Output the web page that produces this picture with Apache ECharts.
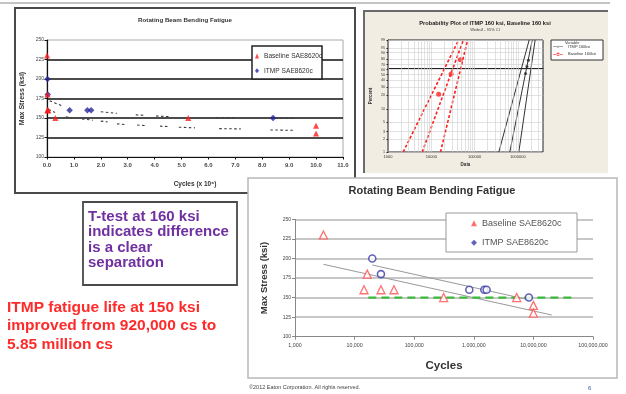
<!DOCTYPE html>
<html>
<head>
<meta charset="utf-8">
<script src="https://cdn.jsdelivr.net/npm/echarts@6/dist/echarts.min.js"></script>
<style>
  html, body { margin: 0; padding: 0; background: #fff; }
  #c { width: 626px; height: 394px; }
</style>
</head>
<body>
<div id="c"></div>
<script>
const FONT = '"Liberation Sans", Arial, sans-serif';

// fatigue tests: cycles to failure and max stress (ksi)
const baseCycles = [3000, 16300, 14400, 27700, 45800, 312000, 5250000, 10000000, 10000000];
const baseStress = [230, 180, 160, 160, 160, 150, 150, 140, 130];
const itmpCycles = [19800, 27700, 841000, 1500000, 1640000, 8400000];
const itmpStress = [200, 180, 160, 160, 160, 150];

// top-left chart: dashed trend marks (x in millions of cycles), null = gap
const upperTrendX = [0.1, 0.42, 0.6, null, 2.0, 2.6, null, 3.3, 3.6, null, 4.05, 4.6, null, 6.3, 7.0, null, 8.3, 9.2];
const upperTrendY = [172, 167.5, 165, null, 158, 156, null, 154, 153.5, null, 152.6, 151.7, null, 150.4, 150.4, null, 149.6, 149.6];
const lowerTrendX = [0.06, 0.3, null, 0.7, 0.95, null, 1.3, 1.7, null, 2.0, 2.25, null, 2.6, 2.95, null, 3.35, 3.7, null, 4.2, 4.5, null, 4.9, 5.5, null, 6.4, 7.2, null, 8.3, 9.15];
const lowerTrendY = [161, 157, null, 151.5, 150, null, 148.8, 147.2, null, 146, 145, null, 142.5, 141.5, null, 141, 140.2, null, 139.6, 139, null, 138.2, 137.4, null, 136.4, 136, null, 134.7, 134.2];

// bottom-right chart: trend lines and 150 ksi reference
const baseTrendX = [3000, 20300000];
const baseTrendY = [192.5, 127.7];
const itmpTrendX = [19800, 8700000];
const itmpTrendY = [191.6, 146.9];
const refX = [17000, 50000000];
const refY = [150, 150];

// probability plot (data, percent)
const pctTicks = [1, 2, 3, 5, 10, 20, 30, 40, 50, 60, 70, 80, 90, 95, 99];
const probDecades = [1000, 10000, 100000, 1000000];
const probSteps = [1, 2, 3, 4, 5, 6, 7, 8, 9];
const redLines = [
  [[2240, 1], [42800, 99]],
  [[6170, 1], [55000, 99]],
  [[16300, 1], [69000, 99]]
];
const redDots = [[14800, 21], [28700, 51], [47000, 79]];
const blackLines = [
  [[363000, 1], [1820000, 99]],
  [[650000, 1], [2140000, 99]],
  [[1050000, 1], [2500000, 99]]
];
const blackDots = [[1500000, 52], [1620000, 66], [1750000, 78]];

const weib = p => Math.log(-Math.log(1 - p / 100));
const pair = (xs, ys) => xs.map((x, i) => (x === null ? '-' : [x, ys[i]]));
const probPts = pts => pts.map(d => [d[0], weib(d[1])]);

const probGridX = [];
probDecades.forEach(d => probSteps.forEach(s => { if (d * s <= 3800000) probGridX.push(d * s); }));

const RED1 = '#ff1a1a', BLUE1 = '#26269a';

const chart = echarts.init(document.getElementById('c'));
chart.setOption({
  animation: false,
  backgroundColor: '#fff',
  textStyle: { fontFamily: FONT },
  title: [
    { text: 'Rotating Beam Bending Fatigue', left: 185, top: 17, textAlign: 'center', padding: 0,
      textStyle: { fontSize: 6.2, fontWeight: 'bold', color: '#333', fontFamily: FONT } },
    { text: 'Probability Plot of ITMP 160 ksi, Baseline 160 ksi', subtext: 'Weibull - 95% CI',
      left: 485, top: 20, textAlign: 'center', padding: 0, itemGap: 1.5,
      textStyle: { fontSize: 5.7, fontWeight: 'bold', color: '#222', fontFamily: FONT },
      subtextStyle: { fontSize: 4, color: '#444', fontFamily: FONT } },
    { text: 'Rotating Beam Bending Fatigue', left: 432, top: 185, textAlign: 'center', padding: 0,
      textStyle: { fontSize: 11, fontWeight: 'bold', color: '#333', fontFamily: FONT } }
  ],
  legend: [
    { left: 255, top: 52, orient: 'vertical', padding: 0, itemWidth: 4, itemHeight: 5, itemGap: 6.7,
      selectedMode: false, textStyle: { fontSize: 6.6, lineHeight: 8, color: '#333' },
      data: [
        { name: 'Baseline SAE8620c', icon: 'triangle', itemStyle: { color: RED1, borderWidth: 0 } },
        { name: 'ITMP SAE8620c', icon: 'diamond', itemStyle: { color: BLUE1, borderWidth: 0 } }
      ] },
    { left: 553, top: 44.7, orient: 'vertical', padding: 0, itemWidth: 10, itemHeight: 4, itemGap: 3.6,
      selectedMode: false, textStyle: { fontSize: 4, lineHeight: 4, color: '#333' },
      data: [
        { name: 'ITMP 160ksi', icon: 'path://M0,4.4H20V5.6H0Z M10,3.2A1.8,1.8 0 1,0 10.01,3.2Z', itemStyle: { color: '#222' } },
        { name: 'Baseline 160ksi', icon: 'path://M0,4.3H20V5.7H0Z M10,1.5A3.5,3.5 0 1,0 10.01,1.5Z', itemStyle: { color: '#ff2020' } }
      ] },
    { left: 471, top: 218.3, orient: 'vertical', padding: 0, itemWidth: 6, itemHeight: 6, itemGap: 9.4,
      selectedMode: false, textStyle: { fontSize: 9, lineHeight: 10, color: '#555' },
      data: [
        { name: 'Baseline SAE8620c', icon: 'triangle', itemStyle: { color: '#ff4d4d', borderWidth: 0 } },
        { name: 'ITMP SAE8620c', icon: 'diamond', itemStyle: { color: '#3c3ca8', borderWidth: 0 } }
      ] }
  ],
  grid: [
    { left: 47, top: 40, width: 296, height: 117, show: true, backgroundColor: '#fff', borderColor: '#aaa', borderWidth: 1 },
    { left: 388, top: 40, width: 155, height: 112, show: true, backgroundColor: '#fff', borderColor: '#222', borderWidth: 1 },
    { left: 295, top: 219.3, width: 298, height: 117.4 }
  ],
  xAxis: [
    { gridIndex: 0, type: 'value', min: 0, max: 11, interval: 1,
      name: 'Cycles (x 10⁶)', nameLocation: 'middle', nameGap: 24,
      nameTextStyle: { fontSize: 6.5, fontWeight: 'bold', color: '#333' },
      axisLine: { lineStyle: { color: '#111', width: 1.2 } },
      axisTick: { length: 2.5, lineStyle: { color: '#111' } },
      axisLabel: { fontSize: 6, fontWeight: 'bold', color: '#444', margin: 5, formatter: v => v.toFixed(1) },
      splitLine: { show: false } },
    { gridIndex: 1, type: 'log', logBase: 10, min: 1000, max: 3800000,
      name: 'Data', nameLocation: 'middle', nameGap: 10,
      nameTextStyle: { fontSize: 4.5, fontWeight: 'bold', color: '#333' },
      axisLine: { lineStyle: { color: '#222' } },
      axisTick: { length: 1.5, lineStyle: { color: '#222' } },
      axisLabel: { fontSize: 4, color: '#333', margin: 3, showMaxLabel: false, formatter: v => String(Math.round(v)) },
      splitLine: { show: false } },
    { gridIndex: 2, type: 'log', logBase: 10, min: 1000, max: 100000000,
      name: 'Cycles', nameLocation: 'middle', nameGap: 23,
      nameTextStyle: { fontSize: 11.5, fontWeight: 'bold', color: '#333' },
      axisLine: { lineStyle: { color: '#888' } },
      axisTick: { length: 3, lineStyle: { color: '#888' } },
      axisLabel: { fontSize: 5.3, color: '#444', margin: 6, formatter: v => Math.round(v).toLocaleString('en-US') },
      splitLine: { show: false } }
  ],
  yAxis: [
    { gridIndex: 0, type: 'value', min: 100, max: 250, interval: 25,
      name: 'Max Stress (ksi)', nameLocation: 'middle', nameGap: 21,
      nameTextStyle: { fontSize: 7, fontWeight: 'bold', color: '#333' },
      axisLine: { show: true, lineStyle: { color: '#111', width: 1.2 } },
      axisTick: { show: true, length: 2.5, lineStyle: { color: '#111' } },
      axisLabel: { fontSize: 5, color: '#444', margin: 3 },
      splitLine: { show: true, showMinLine: false, showMaxLine: false, lineStyle: { color: '#111', width: 1.6 } } },
    { gridIndex: 1, type: 'value', min: weib(1), max: weib(99),
      name: 'Percent', nameLocation: 'middle', nameGap: 15,
      nameTextStyle: { fontSize: 4.5, fontWeight: 'bold', color: '#333' },
      axisLine: { show: true, lineStyle: { color: '#222' } },
      axisTick: { show: true, length: 1.5, customValues: pctTicks.map(weib) },
      axisLabel: { fontSize: 3.6, color: '#333', margin: 3, customValues: pctTicks.map(weib),
        formatter: v => String(Math.round(100 * (1 - Math.exp(-Math.exp(v))))) },
      splitLine: { show: true, lineStyle: { color: '#cfcfcf', width: 0.6 } } },
    { gridIndex: 2, type: 'value', min: 100, max: 250, interval: 25,
      name: 'Max Stress (ksi)', nameLocation: 'middle', nameGap: 26,
      nameTextStyle: { fontSize: 9.5, fontWeight: 'bold', color: '#333' },
      axisLine: { show: true, lineStyle: { color: '#888' } },
      axisTick: { show: true, length: 3, lineStyle: { color: '#888' } },
      axisLabel: { fontSize: 5, color: '#444', margin: 4 },
      splitLine: { show: true, showMinLine: false, lineStyle: { color: '#b5b5b5', width: 1.5 } } }
  ],
  series: [
    // top-left linear chart
    { type: 'line', xAxisIndex: 0, yAxisIndex: 0, data: pair(upperTrendX, upperTrendY), symbol: 'none', z: 2,
      connectNulls: false, lineStyle: { color: '#3a3a3a', width: 1.1, type: [2.5, 2.5] } },
    { type: 'line', xAxisIndex: 0, yAxisIndex: 0, data: pair(lowerTrendX, lowerTrendY), symbol: 'none', z: 2,
      connectNulls: false, lineStyle: { color: '#3a3a3a', width: 1.1, type: [2.5, 2.5] } },
    { name: 'ITMP SAE8620c', type: 'scatter', xAxisIndex: 0, yAxisIndex: 0, symbol: 'diamond', symbolSize: 6.5, z: 3,
      itemStyle: { color: BLUE1 }, data: pair(itmpCycles.map(c => c / 1e6), itmpStress) },
    { name: 'Baseline SAE8620c', type: 'scatter', xAxisIndex: 0, yAxisIndex: 0, symbol: 'triangle', symbolSize: 6, z: 4,
      itemStyle: { color: RED1 }, data: pair(baseCycles.map(c => c / 1e6), baseStress) },

    // probability plot
    { type: 'line', xAxisIndex: 1, yAxisIndex: 1, data: [[1000, weib(1)]], symbol: 'none', z: 1,
      lineStyle: { width: 0 },
      markLine: { silent: true, symbol: 'none', label: { show: false },
        lineStyle: { color: '#cfcfcf', width: 0.6, type: 'solid' },
        data: probGridX.map(v => ({ xAxis: v })) } },
    ...redLines.map(l => ({ type: 'line', xAxisIndex: 1, yAxisIndex: 1, data: probPts(l), symbol: 'none', z: 3,
      lineStyle: { color: '#ff2020', width: 1.6, type: [3, 2] } })),
    ...blackLines.map(l => ({ type: 'line', xAxisIndex: 1, yAxisIndex: 1, data: probPts(l), symbol: 'none', z: 3,
      lineStyle: { color: '#333', width: 1 } })),
    { name: 'Baseline 160ksi', type: 'scatter', xAxisIndex: 1, yAxisIndex: 1, symbolSize: 5, z: 4,
      itemStyle: { color: '#ff2020' }, data: probPts(redDots) },
    { name: 'ITMP 160ksi', type: 'scatter', xAxisIndex: 1, yAxisIndex: 1, symbolSize: 3, z: 4,
      itemStyle: { color: '#222' }, data: probPts(blackDots) },

    // bottom-right log chart
    { type: 'line', xAxisIndex: 2, yAxisIndex: 2, data: pair(baseTrendX, baseTrendY), symbol: 'none', z: 2,
      lineStyle: { color: '#999', width: 1 } },
    { type: 'line', xAxisIndex: 2, yAxisIndex: 2, data: pair(itmpTrendX, itmpTrendY), symbol: 'none', z: 2,
      lineStyle: { color: '#999', width: 1 } },
    { type: 'line', xAxisIndex: 2, yAxisIndex: 2, data: pair(refX, refY), symbol: 'none', z: 2,
      lineStyle: { color: '#3cba3c', width: 2.2, type: [8, 5] } },
    { name: 'Baseline SAE8620c', type: 'scatter', xAxisIndex: 2, yAxisIndex: 2, symbol: 'triangle', symbolSize: 8, z: 4,
      itemStyle: { color: '#fff', borderColor: '#ff4d4d', borderWidth: 1.3 }, data: pair(baseCycles, baseStress) },
    { name: 'ITMP SAE8620c', type: 'scatter', xAxisIndex: 2, yAxisIndex: 2, symbol: 'circle', symbolSize: 7, z: 4,
      itemStyle: { color: '#fff', borderColor: '#3c3ca8', borderWidth: 1.6 }, data: pair(itmpCycles, itmpStress) }
  ],
  graphic: [
    { type: 'line', z: -6, shape: { x1: 0, y1: 3, x2: 610, y2: 3 }, style: { stroke: '#c4c4c4', lineWidth: 2 } },
    { type: 'rect', z: -5, shape: { x: 15, y: 8, width: 340, height: 185 }, style: { fill: '#fff', stroke: '#4a4a4a', lineWidth: 2 } },
    { type: 'rect', z: -5, shape: { x: 364, y: 11, width: 244, height: 162 }, style: { fill: '#f2ede2' } },
    { type: 'polyline', z: -5, shape: { points: [[364, 173], [364, 11], [608, 11]] }, style: { stroke: '#6a6a6a', lineWidth: 2, fill: null } },
    { type: 'rect', z: -4, shape: { x: 248, y: 178, width: 369, height: 200 }, style: { fill: '#fff', stroke: '#b8b8b8', lineWidth: 1.5 } },
    { type: 'rect', z: -4, shape: { x: 83, y: 202, width: 154, height: 83 }, style: { fill: '#fff', stroke: '#4a4a4a', lineWidth: 1.8 } },
    // legend frames
    { type: 'rect', z: 3, shape: { x: 252, y: 46, width: 70, height: 33 }, style: { fill: '#fff', stroke: '#222', lineWidth: 1.5 } },
    { type: 'rect', z: 3, shape: { x: 551, y: 40, width: 52, height: 20 }, style: { fill: '#fff', stroke: '#333', lineWidth: 1 } },
    { type: 'text', z: 5, x: 565, y: 40.8, style: { text: 'Variable', fontSize: 4, fontFamily: FONT, fill: '#333', verticalAlign: 'top' } },
    { type: 'rect', z: 3, shape: { x: 446, y: 213, width: 131, height: 39 }, style: { fill: '#fff', stroke: '#999', lineWidth: 1 } },
    // slide text
    { type: 'text', z: 5, x: 88, y: 209, style: { text: 'T-test at 160 ksi\nindicates difference\nis a clear\nseparation',
      fontSize: 15, fontWeight: 'bold', fontFamily: FONT, fill: '#7030a0', lineHeight: 15.4, verticalAlign: 'top' } },
    { type: 'text', z: 5, x: 7, y: 298, style: { text: 'ITMP fatigue life at 150 ksi\nimproved from 920,000 cs to\n5.85 million cs',
      fontSize: 15.5, fontWeight: 'bold', fontFamily: FONT, fill: '#ff2b2b', lineHeight: 18.5, verticalAlign: 'top' } },
    { type: 'text', z: 5, x: 249, y: 384.5, style: { text: '©2012 Eaton Corporation. All rights reserved.',
      fontSize: 5.5, fontFamily: FONT, fill: '#444', verticalAlign: 'top' } },
    { type: 'text', z: 5, x: 588, y: 385, style: { text: '6', fontSize: 6, fontFamily: FONT, fill: '#3355aa', verticalAlign: 'top' } }
  ]
});
</script>
</body>
</html>
